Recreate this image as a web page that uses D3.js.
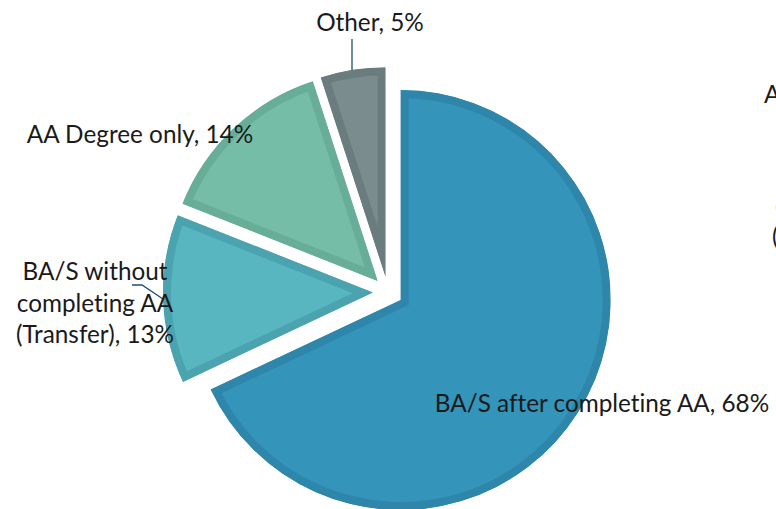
<!DOCTYPE html>
<html>
<head>
<meta charset="utf-8">
<script src="https://cdn.jsdelivr.net/npm/d3@7"></script>
<style>
html,body{margin:0;padding:0;background:#fff;}
svg{display:block;}
text{font-family:Lato,"Open Sans",sans-serif;fill:#1a1a1a;font-variant-ligatures:none;font-feature-settings:"liga" 0,"clig" 0,"dlig" 0;}
</style>
</head>
<body>
<svg id="chart" width="776" height="509"></svg>
<script>
const categories = ["BA/S after completing AA", "BA/S without completing AA (Transfer)", "AA Degree only", "Other"];
const values = [68, 13, 14, 5];
const fillColors = ["#3494BA", "#58B6C0", "#75BDA7", "#7A8C8E"];
const borderColors = ["#2E86AB", "#4AA3AE", "#68AD97", "#6B7C7E"];
const labelLines = [["BA/S after completing AA, 68%"], ["BA/S without", "completing AA", "(Transfer), 13%"], ["AA Degree only, 14%"], ["Other, 5%"]];
// partially visible labels of a neighbouring chart at the right edge
const edgeLabels = ["AA Degree only, 14%", "completing AA", "(Transfer), 13%"];

const svg = d3.select("#chart");
const cx = 388, cy = 292, R = 210, explode = 15;

const pie = d3.pie().sort(null).value(d => d).startAngle(0).endAngle(2 * Math.PI);
const arcs = pie(values);
const arc = d3.arc().innerRadius(0).outerRadius(R);

const defs = svg.append("defs");
const g = svg.append("g").attr("transform", `translate(${cx},${cy})`);

arcs.forEach((a, i) => {
  const mid = (a.startAngle + a.endAngle) / 2;
  const dx = Math.sin(mid) * explode, dy = -Math.cos(mid) * explode;
  defs.append("clipPath").attr("id", "clip" + i)
    .append("path").attr("d", arc(a));
  const sg = g.append("g").attr("transform", `translate(${dx},${dy})`);
  sg.append("path")
    .attr("d", arc(a))
    .attr("fill", fillColors[i])
    .attr("stroke", borderColors[i])
    .attr("stroke-width", 16)
    .attr("stroke-linejoin", "miter")
    .attr("clip-path", `url(#clip${i})`);
});

const fs = 24.3;
function label(lines, x, y, anchor, lh) {
  const t = svg.append("text").attr("font-size", fs).attr("text-anchor", anchor);
  lines.forEach((l, k) => t.append("tspan").attr("x", x).attr("y", y + k * lh).text(l));
}

// leader lines
const leader = "#1F4E79";
svg.append("path").attr("d", "M352,39 L352,70").attr("stroke", leader).attr("stroke-width", 1.3).attr("fill", "none");
svg.append("path").attr("d", "M132,285 L142,285 L163,299").attr("stroke", leader).attr("stroke-width", 1.3).attr("fill", "none");

label(labelLines[3], 370, 31, "middle", 32);
label(labelLines[2], 140, 143, "middle", 32);
label(labelLines[1], 95, 280, "middle", 31.5);
label(labelLines[0], 602, 412, "middle", 32);

label([edgeLabels[0]], 764, 103, "start", 32);
label([edgeLabels[1]], 775, 214, "start", 32);
label([edgeLabels[2]], 772, 245, "start", 32);
</script>
</body>
</html>
